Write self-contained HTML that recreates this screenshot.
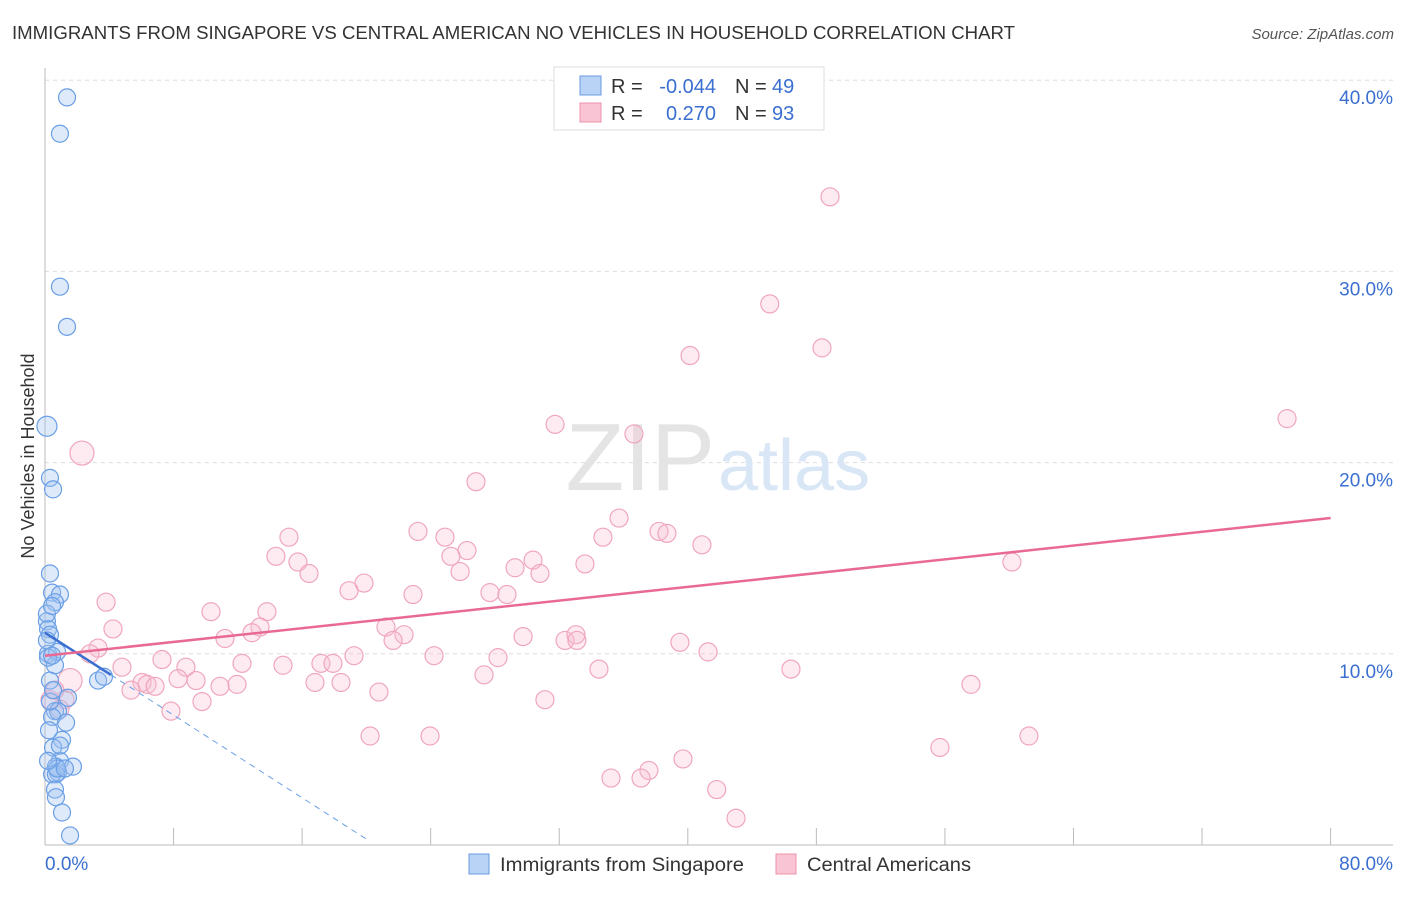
<!DOCTYPE html>
<html><head><meta charset="utf-8"><style>
body{margin:0;background:#fff;font-family:"Liberation Sans",sans-serif}
svg text{font-family:"Liberation Sans",sans-serif}
</style></head><body>
<svg width="1406" height="892" xmlns="http://www.w3.org/2000/svg">
<text x="12" y="39" font-size="18" fill="#333" textLength="1003" lengthAdjust="spacingAndGlyphs">IMMIGRANTS FROM SINGAPORE VS CENTRAL AMERICAN NO VEHICLES IN HOUSEHOLD CORRELATION CHART</text>
<text x="1394" y="39" font-size="15" fill="#555" text-anchor="end" font-style="italic">Source: ZipAtlas.com</text>
<text x="34" y="456" font-size="18" fill="#333" text-anchor="middle" transform="rotate(-90 34 456)">No Vehicles in Household</text>
<g id="grid"></g>
<text x="715" y="490" font-size="96" fill="#e4e4e4" text-anchor="end" font-family="Liberation Serif">ZIP</text>
<text x="718" y="490" font-size="72" fill="#d8e6f6">atlas</text>
<g id="marks"></g>
<g>
<rect x="554" y="67" width="270" height="63" fill="#fff" stroke="#ddd"/>
<rect x="580" y="76" width="21" height="19" fill="#b8d3f5" stroke="#6a9be0"/>
<text x="611" y="93" font-size="20" fill="#333">R =</text>
<text x="716" y="93" font-size="20" fill="#3a6fd0" text-anchor="end">-0.044</text>
<text x="735" y="93" font-size="20" fill="#333">N =</text>
<text x="772" y="93" font-size="20" fill="#3a6fd0">49</text>
<rect x="580" y="103" width="21" height="19" fill="#f9c4d3" stroke="#ee8fab"/>
<text x="611" y="120" font-size="20" fill="#333">R =</text>
<text x="716" y="120" font-size="20" fill="#3a6fd0" text-anchor="end">0.270</text>
<text x="735" y="120" font-size="20" fill="#333">N =</text>
<text x="772" y="120" font-size="20" fill="#3a6fd0">93</text>
</g>
<g>
<rect x="469" y="854" width="20" height="20" fill="#b8d3f5" stroke="#6a9be0"/>
<text x="500" y="871" font-size="19" fill="#333" textLength="244" lengthAdjust="spacingAndGlyphs">Immigrants from Singapore</text>
<rect x="776" y="854" width="20" height="20" fill="#f9c4d3" stroke="#ee8fab"/>
<text x="807" y="871" font-size="19" fill="#333" textLength="164" lengthAdjust="spacingAndGlyphs">Central Americans</text>
</g>
</svg>
<script>
const yTicks=[10,20,30,40];
const xTickLabels=["0.0%","80.0%"];
const blueX=[1.37,0.93,0.93,1.37,0.12,0.31,0.5,0.31,0.44,0.93,0.62,0.12,0.19,0.31,0.19,0.62,0.75,0.31,1.43,0.62,0.81,0.44,1.31,1.06,0.5,0.93,0.68,1.74,0.81,0.44,0.68,0.62,0.68,1.06,1.56,3.3,3.67,0.19,0.12,0.31,0.93,0.12,0.44,0.75,0.19,0.25,0.5,0.44,1.24];
const blueY=[39.1,37.2,29.2,27.1,21.9,19.2,18.6,14.2,13.2,13.1,12.7,11.7,11.3,11.0,10.0,9.4,10.1,8.6,7.7,7.0,7.0,6.7,6.4,5.5,5.1,4.4,4.1,4.1,3.8,3.7,3.7,2.9,2.5,1.7,0.5,8.6,8.8,9.8,10.7,7.5,5.2,12.1,12.5,4.0,4.4,6.0,8.1,9.9,4.0];
const pinkX=[2.3,48.85,45.1,40.14,48.35,77.29,31.74,36.65,26.82,23.21,24.89,15.18,35.72,34.72,38.21,38.7,40.88,26.26,25.26,30.37,14.37,15.74,16.43,25.83,29.25,30.8,33.6,60.17,19.85,18.92,27.69,28.75,22.9,3.8,10.33,13.81,4.23,13.38,12.88,21.22,22.34,21.66,29.75,32.36,33.04,33.1,39.51,11.2,3.3,2.8,19.23,24.21,41.26,7.28,12.26,28.19,4.79,8.77,14.81,17.17,17.92,34.47,46.42,8.28,9.4,6.04,6.35,6.85,11.95,16.8,18.42,27.32,5.35,10.89,57.62,20.78,9.77,7.84,31.11,20.23,23.96,55.69,61.23,39.7,37.58,37.09,35.22,41.8,43.0,1.56,1.24,0.93,0.31,0.62];
const pinkY=[20.5,33.9,28.3,25.6,26.0,22.3,22.0,21.5,19.0,16.4,16.1,16.1,17.1,16.1,16.4,16.3,15.7,15.4,15.1,14.9,15.1,14.8,14.2,14.3,14.5,14.2,14.7,14.8,13.7,13.3,13.2,13.1,13.1,12.7,12.2,12.2,11.3,11.4,11.1,11.4,11.0,10.7,10.9,10.7,11.0,10.7,10.6,10.8,10.3,10.0,9.9,9.9,10.1,9.7,9.5,9.8,9.3,9.3,9.4,9.5,9.5,9.2,9.2,8.7,8.6,8.5,8.4,8.3,8.4,8.5,8.5,8.9,8.1,8.3,8.4,8.0,7.5,7.0,7.6,5.7,5.7,5.1,5.7,4.5,3.9,3.5,3.5,2.9,1.4,8.6,7.6,7.1,7.6,8.1];
const X0=45,XS=16.07,Y0=845,YS=19.12;
const xs=v=>X0+v*XS, ys=v=>Y0-v*YS;
const NS="http://www.w3.org/2000/svg";
const grid=document.getElementById('grid'), marks=document.getElementById('marks');
function mk(tag,attrs,parent){const e=document.createElementNS(NS,tag);for(const k in attrs)e.setAttribute(k,attrs[k]);parent.appendChild(e);return e;}
yTicks.forEach(t=>{
 const l=mk('line',{x1:45,x2:1393,y1:ys(t),y2:ys(t),stroke:'#ddd','stroke-dasharray':'4,4'},grid);
 
 
 const tx=mk('text',{x:1393,y:ys(t)+24,'font-size':19,fill:'#3a6fd0','text-anchor':'end'},grid);
 tx.textContent=t.toFixed(1)+'%';
 
 
});
const ax=mk('line',{x1:45,x2:45,y1:68,y2:845,stroke:'#bbb'},grid);


const bx=mk('line',{x1:45,x2:1393,y1:845,y2:845,stroke:'#bbb'},grid);


for(let i=0;i<=10;i++){const t=mk('line',{x1:xs(i*8),x2:xs(i*8),y1:828,y2:845,stroke:'#bbb'},grid);
 
 }
[[0,'start',45],[80,'end',1393]].forEach((d,i)=>{const t=mk('text',{x:d[2],y:870,'font-size':19,fill:'#3a6fd0','text-anchor':d[1]},grid);t.textContent=xTickLabels[i];
 
 });
pinkX.forEach((v,i)=>{const big=(i==0||i==89);const c=mk('circle',{cx:xs(v),cy:ys(pinkY[i]),r:big?12:9,fill:'rgba(248,190,208,0.3)',stroke:'#f0a6bd','stroke-width':1.2},marks);
 
 });
blueX.forEach((v,i)=>{const c=mk('circle',{cx:xs(v),cy:ys(blueY[i]),r:i==4?10:8.5,fill:'rgba(160,196,242,0.35)',stroke:'#6a9fe6','stroke-width':1.2},marks);
 
 });
const tb=mk('line',{x1:xs(4.1),y1:ys(8.9),x2:xs(20.2),y2:ys(0.2),stroke:'#6a9fe6','stroke-dasharray':'6,5','stroke-width':1},marks);


const ts=mk('line',{x1:xs(0),y1:ys(11.1),x2:xs(4.1),y2:ys(8.9),stroke:'#3a6fd0','stroke-width':2.5},marks);


const tp=mk('line',{x1:xs(0),y1:ys(9.9),x2:xs(80),y2:ys(17.1),stroke:'#e86a93','stroke-width':2.5},marks);


</script>
</body></html>
